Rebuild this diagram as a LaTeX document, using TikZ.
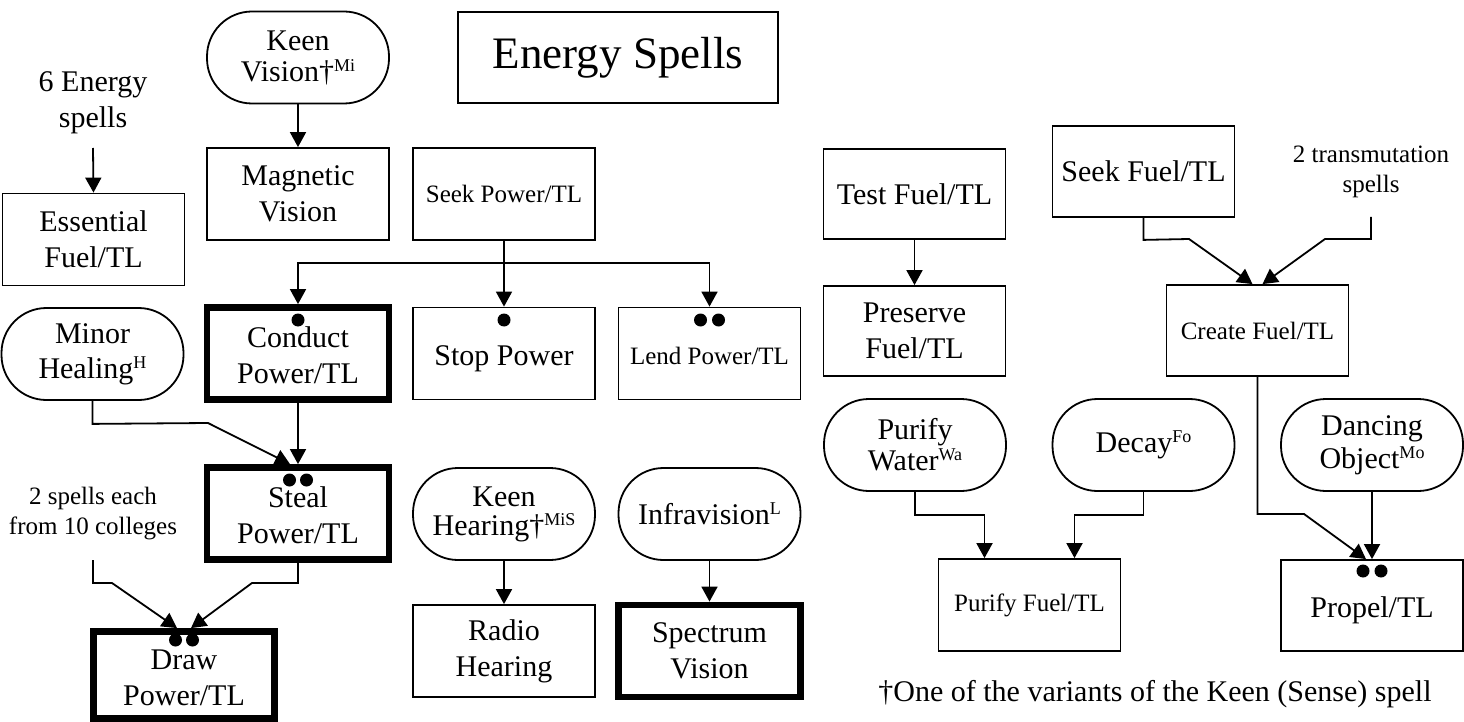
\documentclass[tikz,border=0pt]{standalone}
\usepackage{fontspec}
\setmainfont{Liberation Serif}
\usetikzlibrary{arrows.meta}
\newcommand\spr[1]{\raisebox{10pt}{\fontsize{18}{18}\selectfont #1}}
\newcommand\lowr[1]{\raisebox{-5pt}[\height][\depth]{\begin{tabular}{@{}c@{}}#1\end{tabular}}}
\begin{document}
\begin{tikzpicture}[x=1pt,y=-1pt,
 big/.style={font=\fontsize{30}{36}\selectfont},
 small/.style={font=\fontsize{25}{30}\selectfont},
 box/.style={draw, line width=1.8pt, align=center, inner sep=0pt, minimum width=182pt, minimum height=92pt},
 heavy/.style={box, line width=6.8pt},
 pill/.style={box, rounded corners=45pt},
 lbl/.style={align=center, inner sep=0pt},
 arr/.style={line width=1.8pt, -{Triangle[length=15pt,width=16pt]}},
 dot/.style={circle, fill, inner sep=0pt, minimum size=13pt}
]
\useasboundingbox (0,0) rectangle (1464,722);
% title
\node[box, minimum width=320pt, minimum height=91pt, font=\fontsize{45}{50}\selectfont] (title) at (618,57.5) {Energy Spells};
% left column
\node[lbl, big] (lbl6) at (93,103) {6 Energy\\spells};
\coordinate (c6) at (93,148);
\node[box, big] (ess) at (93.5,239.5) {Essential\\Fuel/TL};
\node[pill, big, font=\fontsize{30}{35}\selectfont] (minor) at (92.5,354) {Minor\\Healing\spr{H}};
\node[lbl, small] (lbl2) at (93,514) {2 spells each\\from 10 colleges};
\coordinate (c2) at (93,560);
\node[heavy, big, minimum width=181pt, minimum height=87pt] (drawp) at (184,675) {\lowr{Draw\\Power/TL}};
% second column
\node[pill, font=\fontsize{30}{31}\selectfont] (keenv) at (298,57.5) {Keen\\Vision\dag\spr{Mi}};
\node[box, big] (magv) at (298,194) {Magnetic\\Vision};
\node[heavy, big] (cond) at (298,353.5) {\lowr{Conduct\\Power/TL}};
\node[heavy, big] (steal) at (298,513.5) {\lowr{Steal\\Power/TL}};
% third column
\node[box, small] (seekp) at (504,194) {Seek Power/TL};
\coordinate (j1) at (504,263);
\node[box, big] (stop) at (504,353.5) {\lowr{Stop Power}};
\node[pill, font=\fontsize{30}{29}\selectfont] (keenh) at (504,514) {Keen\\Hearing\dag\spr{MiS}};
\node[box, big] (radio) at (504,651) {Radio\\Hearing};
% fourth column
\node[box, small] (lend) at (709.5,353.5) {\lowr{Lend Power/TL}};
\node[pill, big] (infra) at (709.5,514) {Infravision\spr{L}};
\node[heavy, big] (spec) at (709.5,651) {Spectrum\\Vision};
% right part
\node[box, big, minimum height=90pt] (testf) at (914.5,194) {Test Fuel/TL};
\node[box, big, minimum height=90pt] (pres) at (914.5,331) {Preserve\\Fuel/TL};
\node[box, big, minimum height=91pt] (seekf) at (1143.5,171.5) {Seek Fuel/TL};
\node[lbl, small] (lblt) at (1371,172) {2 transmutation\\spells};
\coordinate (ct) at (1371,217);
\node[box, small, minimum height=91pt] (createf) at (1257.5,330.5) {Create Fuel/TL};
\node[pill, font=\fontsize{30}{31}\selectfont] (purw) at (915,445) {Purify\\Water\spr{Wa}};
\node[pill, big] (decay) at (1143.5,445) {Decay\spr{Fo}};
\node[pill, font=\fontsize{30}{33}\selectfont] (dance) at (1372,445) {Dancing\\Object\spr{Mo}};
\node[box, small] (purf) at (1029.5,605) {Purify Fuel/TL};
\node[box, big, minimum height=91pt] (propel) at (1372,605.5) {\lowr{Propel/TL}};
\node[lbl, big] (foot) at (1155,694) {\dag One of the variants of the Keen (Sense) spell};
% dots
\node[dot] (dc) at (298,320) {};
\node[dot] (ds) at (504,320) {};
\node[dot] (dl1) at (700.5,320) {};
\node[dot] (dl2) at (718.5,320) {};
\node[dot] (dst1) at (289.5,480) {};
\node[dot] (dst2) at (306.5,480) {};
\node[dot] (dd1) at (175.5,640) {};
\node[dot] (dd2) at (192.5,640) {};
\node[dot] (dp1) at (1363,571) {};
\node[dot] (dp2) at (1381,571) {};
% connectors
\draw[arr] (c6) -- (ess.north);
\draw[arr] (keenv.south) -- (magv.north);
\draw[line width=1.8pt] (seekp.south) -- (j1);
\draw[arr] (j1) -- (stop.north);
\draw[arr] (j1) -| (cond.north);
\draw[arr] (j1) -| (lend.north);
\draw[arr] (minor.south) -- ++(0,23) -- (208,423) -- ([xshift=-8pt]steal.north);
\draw[arr] (cond.south) -- (steal.north);
\draw[arr] (c2) -- ++(0,23) -- (112,583) -- ([xshift=-7pt]drawp.north);
\draw[arr] (steal.south) -- ++(0,20) -- (252,583) -- ([xshift=7pt]drawp.north);
\draw[arr] (keenh.south) -- (radio.north);
\draw[arr] (infra.south) -- (spec.north);
\draw[arr] (testf.south) -- (pres.north);
\draw[arr] (seekf.south) -- ++(0,22) -- (1189,239) -- ([xshift=-5pt]createf.north);
\draw[arr] (ct) -- ++(0,22) -- (1325,239) -- ([xshift=5pt]createf.north);
\draw[arr] (purw.south) -- ++(0,23) -| ([xshift=-45pt]purf.north);
\draw[arr] (decay.south) -- ++(0,23) -| ([xshift=45pt]purf.north);
\draw[arr] (createf.south) -- (1257.5,514) -- (1304,514) -- ([xshift=-6pt]propel.north);
\draw[arr] (dance.south) -- (propel.north);
\end{tikzpicture}
\end{document}
